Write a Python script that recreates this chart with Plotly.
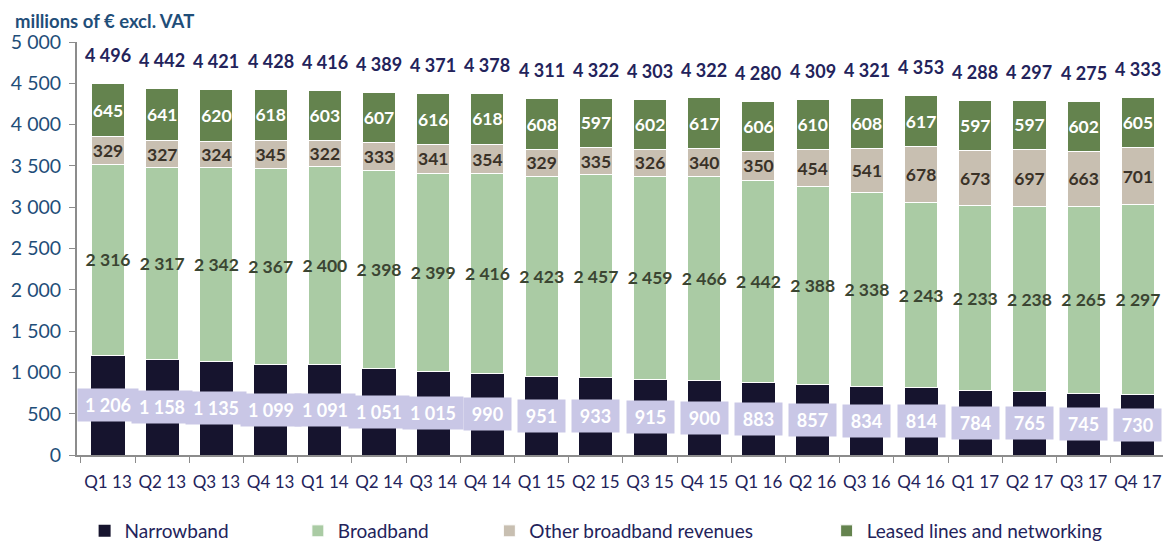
import plotly.graph_objects as go

quarters = ["Q1 13", "Q2 13", "Q3 13", "Q4 13", "Q1 14", "Q2 14", "Q3 14", "Q4 14",
            "Q1 15", "Q2 15", "Q3 15", "Q4 15", "Q1 16", "Q2 16", "Q3 16", "Q4 16",
            "Q1 17", "Q2 17", "Q3 17", "Q4 17"]
narrowband = [1206, 1158, 1135, 1099, 1091, 1051, 1015, 990, 951, 933,
              915, 900, 883, 857, 834, 814, 784, 765, 745, 730]
broadband = [2316, 2317, 2342, 2367, 2400, 2398, 2399, 2416, 2423, 2457,
             2459, 2466, 2442, 2388, 2338, 2243, 2233, 2238, 2265, 2297]
other_bb = [329, 327, 324, 345, 322, 333, 341, 354, 329, 335,
            326, 340, 350, 454, 541, 678, 673, 697, 663, 701]
leased = [645, 641, 620, 618, 603, 607, 616, 618, 608, 597,
          602, 617, 606, 610, 608, 617, 597, 597, 602, 605]
totals = [4496, 4442, 4421, 4428, 4416, 4389, 4371, 4378, 4311, 4322,
          4303, 4322, 4280, 4309, 4321, 4353, 4288, 4297, 4275, 4333]


def fmt(v):
    return f"{v:,}".replace(",", " ")


FONT = "Lato"

fig = go.Figure()

fig.add_trace(go.Bar(
    name="Narrowband", x=quarters, y=narrowband, legend="legend",
    marker=dict(color="#16142e", line=dict(width=0)),
    hoverinfo="y"
))
fig.add_trace(go.Bar(
    name="Broadband", x=quarters, y=broadband, legend="legend2",
    marker=dict(color="#aacba4", line=dict(color="white", width=1)),
    text=[fmt(v) for v in broadband], textposition="inside",
    insidetextanchor="middle", textangle=0, constraintext="none",
    textfont=dict(family=FONT, size=17.5, color="#3b4532", weight="bold")
))
fig.add_trace(go.Bar(
    name="Other broadband revenues", x=quarters, y=other_bb, legend="legend3",
    marker=dict(color="#c8bfb1", line=dict(color="white", width=1)),
    text=[fmt(v) for v in other_bb], textposition="inside",
    insidetextanchor="middle", textangle=0, constraintext="none",
    textfont=dict(family=FONT, size=17.5, color="#3a3228", weight="bold")
))
fig.add_trace(go.Bar(
    name="Leased lines and networking", x=quarters, y=leased, legend="legend4",
    marker=dict(color="#64834e", line=dict(color="white", width=1)),
    text=[fmt(v) for v in leased], textposition="inside",
    insidetextanchor="middle", textangle=0, constraintext="none",
    textfont=dict(family=FONT, size=17.5, color="white", weight="bold")
))

# totals above the bars
for q, t in zip(quarters, totals):
    fig.add_annotation(
        x=q, y=t + 345, text=f"<b>{fmt(t)}</b>", showarrow=False,
        yanchor="middle", font=dict(family=FONT, size=18, color="#23235b")
    )

# narrowband labels in lavender boxes
for q, n in zip(quarters, narrowband):
    fig.add_annotation(
        x=q, y=n / 2, text=f"<b>{fmt(n)}</b>", showarrow=False,
        bgcolor="#c9c7e6", width=60 if n >= 1000 else 47, height=32,
        borderpad=0, font=dict(family=FONT, size=18, color="white")
    )


def legend_at(x):
    return dict(orientation="h", x=x, y=-0.138, xanchor="left", yanchor="top",
                font=dict(family=FONT, size=19, color="#23235b"),
                itemwidth=30, bgcolor="rgba(0,0,0,0)")


tickvals = list(range(0, 5001, 500))
fig.update_layout(
    barmode="stack",
    bargap=0.39,
    width=1163, height=533,
    margin=dict(l=69, r=6, t=34, b=86, autoexpand=False),
    plot_bgcolor="white", paper_bgcolor="white",
    font=dict(family=FONT, color="#23235b"),
    title=dict(text="<b>millions of € excl. VAT</b>", x=0.006, xanchor="left",
               y=0.975, yanchor="middle",
               font=dict(family=FONT, size=18.5, color="#1f4e79")),
    legend=legend_at(0.007),
    legend2=legend_at(0.203),
    legend3=legend_at(0.379),
    legend4=legend_at(0.689),
    showlegend=True,
)
fig.update_yaxes(
    range=[0, 5000], tickvals=tickvals, ticktext=[fmt(v) for v in tickvals],
    showgrid=False, showline=True, linecolor="#8c8c8c", linewidth=2,
    ticks="outside", ticklen=6, tickcolor="#8c8c8c", automargin=False,
    ticklabelstandoff=4,
    tickfont=dict(family=FONT, size=19.5, color="#1f4e79"), zeroline=False
)
fig.update_xaxes(
    showgrid=False, showline=True, linecolor="#8c8c8c", linewidth=2,
    ticks="outside", ticklen=6, tickcolor="#8c8c8c", tickson="boundaries",
    tickangle=0, automargin=False, ticklabelstandoff=11,
    tickfont=dict(family=FONT, size=17, color="#23235b")
)

fig.write_html("out.html")
